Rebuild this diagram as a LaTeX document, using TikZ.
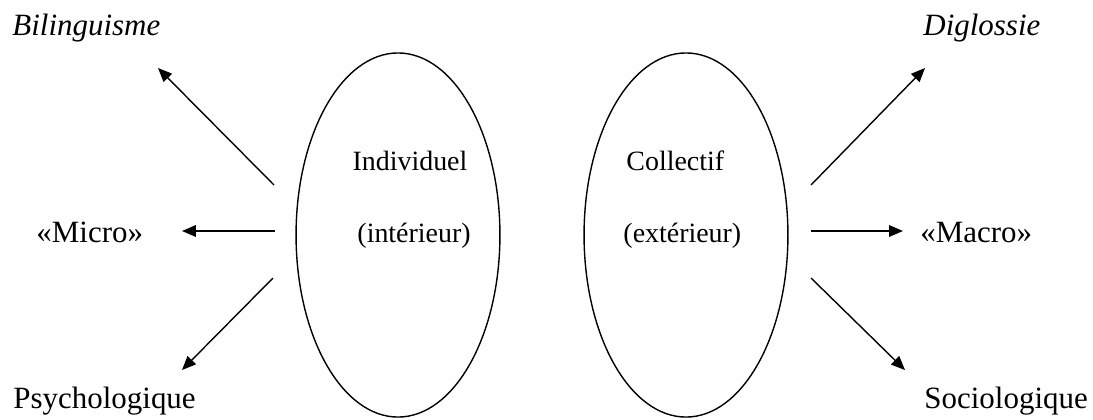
\documentclass[tikz,border=0pt]{standalone}
\usepackage{fontspec}
\setmainfont{Liberation Serif}
\usetikzlibrary{arrows.meta,shapes.geometric}

\begin{document}
\begin{tikzpicture}[x=0.0151cm, y=-0.0151cm, font=\fontsize{12pt}{14pt}\selectfont,
    arr/.style={-{Triangle[length=6pt,width=5pt]}, line width=0.6pt},
    oval/.style={ellipse, draw, line width=0.6pt, minimum width=3.08cm, minimum height=5.5cm, inner sep=0pt},
    big/.style={font=\fontsize{13.3pt}{15pt}\selectfont, anchor=base west, inner sep=0pt}]
    \useasboundingbox (0,0) rectangle (1093,419);
                    % Nodes
                    \node[oval] (ind) at (398,235) {};
                    \node[oval] (col) at (686,235) {};
                    \node[anchor=base, inner sep=0pt] (indt) at (410,170) {Individuel};
                    \node[anchor=base west, inner sep=0pt] (inti) at (357,242) {(intérieur)};
                    \node[anchor=base west, inner sep=0pt] (colt) at (626,170) {Collectif};
                    \node[anchor=base west, inner sep=0pt] (exte) at (623,242) {(extérieur)};
                    \node[big] (bil) at (12,35) {\itshape Bilinguisme};
                    \node[big] (dig) at (923,35) {\itshape Diglossie};
                    \node[big] (mic) at (36,242) {«Micro»};
                    \node[big] (mac) at (920,242) {«Macro»};
                    \node[big] (psy) at (13,408) {Psychologique};
                    \node[big] (soc) at (924,408) {Sociologique};
                    % Arrow ends
                    \coordinate (a1) at (274,185); \coordinate (b1) at (158,68);
                    \coordinate (a2) at (275,231); \coordinate (b2) at (182,231);
                    \coordinate (a3) at (273,278); \coordinate (b3) at (182,370);
                    \coordinate (a4) at (811,185); \coordinate (b4) at (925,68);
                    \coordinate (a5) at (811,231); \coordinate (b5) at (903,231);
                    \coordinate (a6) at (811,278); \coordinate (b6) at (905,370);
                    % Edges
                    \draw[arr] (a1) -- (b1);
                    \draw[arr] (a2) -- (b2);
                    \draw[arr] (a3) -- (b3);
                    \draw[arr] (a4) -- (b4);
                    \draw[arr] (a5) -- (b5);
                    \draw[arr] (a6) -- (b6);
                \end{tikzpicture}
\end{document}
